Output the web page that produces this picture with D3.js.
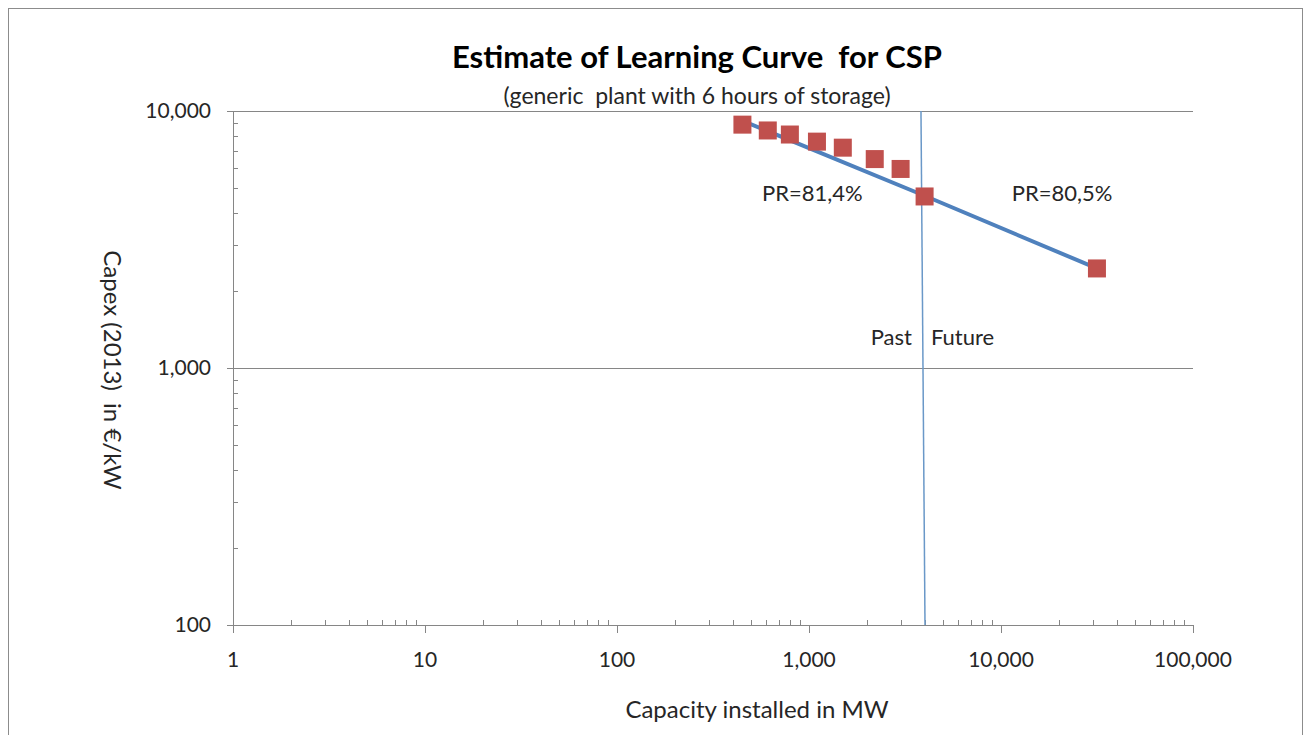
<!DOCTYPE html>
<html>
<head>
<meta charset="utf-8">
<script src="https://cdn.jsdelivr.net/npm/d3@7"></script>
<style>
  html, body { margin: 0; padding: 0; background: #fff; }
  svg { display: block; font-family: Lato, "Open Sans", sans-serif; }
  svg text { white-space: pre; }
</style>
</head>
<body>
<svg id="chart" width="1307" height="735"></svg>
<script>
// capacity installed (MW) and capex (EUR/kW)
const capacity = [450, 610, 795, 1100, 1500, 2200, 3000, 4000, 31600];
const capex    = [8850, 8400, 8100, 7600, 7200, 6500, 5950, 4650, 2440];
// fitted learning curve: past and future segments
const fitCapacity = [445, 4000, 31600];
const fitCapex    = [9200, 4680, 2440];
// past / future divider
const dividerCapacity = [3830, 4020];
const dividerCapex    = [10000, 100];

const xTicks = [1, 10, 100, 1000, 10000, 100000];
const yTicks = [100, 1000, 10000];
const prLabels = [
  { text: "PR=81,4%", x: 1040, y: 4470 },
  { text: "PR=80,5%", x: 20800, y: 4470 }
];

const svg = d3.select("#chart");
const W = 1307, H = 735;
const m = { left: 233, right: 114, top: 111, bottom: 110 };
const ink = "#262626";

// outer chart frame
svg.append("rect")
  .attr("x", 8.5).attr("y", 8.5)
  .attr("width", W - 13).attr("height", H)
  .attr("fill", "#fff")
  .attr("stroke", "#8c8c8c")
  .attr("stroke-width", 1);

const x = d3.scaleLog().domain([1, 100000]).range([m.left, W - m.right]);
const y = d3.scaleLog().domain([100, 10000]).range([H - m.bottom, m.top]);

const fmt = d3.format(",");
const axisColor = "#868686";

// gridlines
svg.append("g")
  .selectAll("line")
  .data(yTicks.slice(1))
  .join("line")
  .attr("x1", x(1) - 6).attr("x2", x(100000))
  .attr("y1", d => Math.round(y(d)) + 0.5).attr("y2", d => Math.round(y(d)) + 0.5)
  .attr("stroke", axisColor)
  .attr("stroke-width", 1);

// minor ticks
const minorX = [];
for (let dec = 1; dec < 100000; dec *= 10) for (let k = 2; k <= 9; k++) minorX.push(dec * k);
const minorY = [];
for (let dec = 100; dec < 10000; dec *= 10) for (let k = 2; k <= 9; k++) minorY.push(dec * k);

// x axis
const xAxis = svg.append("g");
xAxis.append("line")
  .attr("x1", x(1)).attr("x2", x(100000))
  .attr("y1", y(100) + 0.5).attr("y2", y(100) + 0.5)
  .attr("stroke", axisColor);
xAxis.selectAll("line.minor")
  .data(minorX)
  .join("line")
  .attr("class", "minor")
  .attr("x1", d => Math.round(x(d)) + 0.5).attr("x2", d => Math.round(x(d)) + 0.5)
  .attr("y1", y(100)).attr("y2", y(100) - 5)
  .attr("stroke", axisColor);
xAxis.selectAll("line.major")
  .data(xTicks)
  .join("line")
  .attr("class", "major")
  .attr("x1", d => Math.round(x(d)) + 0.5).attr("x2", d => Math.round(x(d)) + 0.5)
  .attr("y1", y(100)).attr("y2", y(100) + 8)
  .attr("stroke", axisColor);
xAxis.selectAll("text")
  .data(xTicks)
  .join("text")
  .attr("x", d => x(d))
  .attr("y", y(100) + 42)
  .attr("text-anchor", "middle")
  .attr("font-size", 21)
  .attr("fill", ink)
  .text(d => fmt(d));

// y axis
const yAxis = svg.append("g");
yAxis.append("line")
  .attr("x1", x(1) + 0.5).attr("x2", x(1) + 0.5)
  .attr("y1", y(10000)).attr("y2", y(100))
  .attr("stroke", axisColor);
yAxis.selectAll("line.minor")
  .data(minorY)
  .join("line")
  .attr("class", "minor")
  .attr("x1", x(1)).attr("x2", x(1) + 5)
  .attr("y1", d => Math.round(y(d)) + 0.5).attr("y2", d => Math.round(y(d)) + 0.5)
  .attr("stroke", axisColor);
yAxis.selectAll("line.major")
  .data(yTicks)
  .join("line")
  .attr("class", "major")
  .attr("x1", x(1) - 6).attr("x2", x(1))
  .attr("y1", d => Math.round(y(d)) + 0.5).attr("y2", d => Math.round(y(d)) + 0.5)
  .attr("stroke", axisColor);
yAxis.selectAll("text")
  .data(yTicks)
  .join("text")
  .attr("x", x(1) - 22)
  .attr("y", d => y(d) + 7)
  .attr("text-anchor", "end")
  .attr("font-size", 21)
  .attr("fill", ink)
  .text(d => fmt(d));

// divider line past/future
svg.append("line")
  .attr("x1", x(dividerCapacity[0])).attr("y1", y(dividerCapex[0]))
  .attr("x2", x(dividerCapacity[1])).attr("y2", y(dividerCapex[1]))
  .attr("stroke", "#6a98c8")
  .attr("stroke-width", 1.5);

// learning-curve fit
const fitLine = d3.line().x(d => x(d[0])).y(d => y(d[1]));
svg.append("path")
  .attr("d", fitLine(d3.zip(fitCapacity, fitCapex)))
  .attr("fill", "none")
  .attr("stroke", "#4f81bd")
  .attr("stroke-width", 4);

// data markers
const S = 18;
svg.append("g")
  .selectAll("rect")
  .data(d3.zip(capacity, capex))
  .join("rect")
  .attr("x", d => x(d[0]) - S / 2)
  .attr("y", d => y(d[1]) - S / 2)
  .attr("width", S).attr("height", S)
  .attr("fill", "#c0504d");

// PR annotations
svg.append("g")
  .selectAll("text")
  .data(prLabels)
  .join("text")
  .attr("x", d => x(d.x))
  .attr("y", d => y(d.y))
  .attr("text-anchor", "middle")
  .attr("font-size", 22)
  .attr("fill", ink)
  .text(d => d.text);

// Past / Future
svg.append("text")
  .attr("x", x(dividerCapacity[0]) - 9).attr("y", 345)
  .attr("text-anchor", "end")
  .attr("font-size", 22).attr("fill", ink)
  .text("Past");
svg.append("text")
  .attr("x", x(dividerCapacity[0]) + 10).attr("y", 345)
  .attr("text-anchor", "start")
  .attr("font-size", 22).attr("fill", ink)
  .text("Future");

// titles
svg.append("text")
  .attr("x", 697).attr("y", 68)
  .attr("text-anchor", "middle")
  .attr("font-size", 31).attr("font-weight", 700)
  .attr("fill", "#000")
  .text("Estimate of Learning Curve  for CSP");
svg.append("text")
  .attr("x", 697).attr("y", 104)
  .attr("text-anchor", "middle")
  .attr("font-size", 23)
  .attr("fill", ink)
  .text("(generic  plant with 6 hours of storage)");

svg.append("text")
  .attr("x", 757).attr("y", 718)
  .attr("text-anchor", "middle")
  .attr("font-size", 24)
  .attr("fill", ink)
  .text("Capacity installed in MW");

svg.append("text")
  .attr("transform", "translate(104,370) rotate(90)")
  .attr("text-anchor", "middle")
  .attr("font-size", 24)
  .attr("fill", ink)
  .text("Capex (2013)  in €/kW");
</script>
</body>
</html>
